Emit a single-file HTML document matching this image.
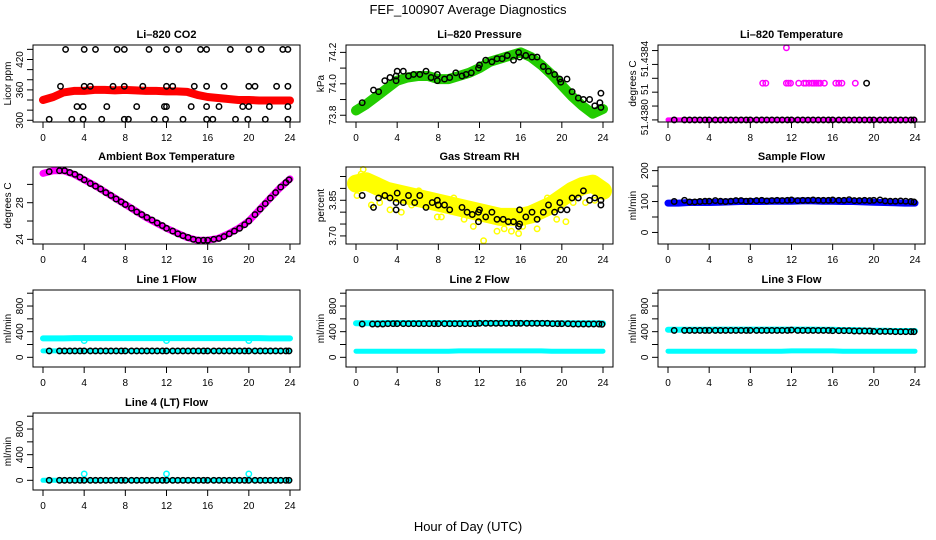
<!DOCTYPE html>
<html><head><meta charset="utf-8">
<style>
html,body{margin:0;padding:0;background:#fff;}
svg{display:block;font-family:"Liberation Sans",Arial,sans-serif;}
</style></head>
<body>
<svg id="chart" width="936" height="540" viewBox="0 0 936 540" xmlns="http://www.w3.org/2000/svg">
<rect width="936" height="540" fill="#fff"/>
<text x="468" y="14" text-anchor="middle" font-size="13">FEF_100907  Average Diagnostics</text>
<text x="468" y="531" text-anchor="middle" font-size="13">Hour of Day (UTC)</text>
</svg>
<script>
// ---------- data ----------
const xTicks = [0,4,8,12,16,20,24];
const hours = [0,1,2,3,4,5,6,7,8,9,10,11,12,13,14,15,16,17,18,19,20,21,22,23,24];
const blackHours = [0.6,1.6,2.1,2.6,3.1,3.6,4.0,4.6,5.1,5.6,6.1,6.6,7.1,7.6,8.0,8.6,9.1,9.6,10.1,10.6,11.1,11.6,12.0,12.6,13.1,13.6,14.1,14.6,15.1,15.6,16.0,16.6,17.1,17.6,18.1,18.6,19.1,19.6,20.0,20.6,21.1,21.6,22.1,22.6,23.1,23.6,23.9];

// CO2
const co2Band = [340,346,355,358,358,360,360,359,360,359,358,358,357,357,356,350,346,344,342,340,340,339,339,339,339];
const co2BlackHours = [2.2,4,5.1,7.2,7.9,10.3,12,13.2,15.3,15.9,18.2,20,21.2,23.3,23.8, 1.7,4,4.6,6.8,7.9,9.7,12,12.6,14.7,15.9,17.6,20,20.6,22.7,23.8, 3.3,3.9,6.2,9.1,11.8,12,14.4,15.9,17.1,19.4,20,22,23.8, 0.6,2.8,3.9,5.7,7.9,8.3,10.8,11.9,13.6,15.9,16.5,18.7,19.9,21.6,23.8];
const co2BlackVals = [440,440,440,440,440,440,440,440,440,440,440,440,440,440,440, 367,367,367,367,367,367,367,367,367,367,367,367,367,367,367, 327,327,327,327,327,327,327,327,327,327,327,327,327, 302,302,302,302,302,302,302,302,302,302,302,302,302,302,302];

// Pressure
const presBand = [73.83,73.87,73.92,73.97,74.02,74.04,74.05,74.05,74.03,74.03,74.05,74.07,74.1,74.14,74.16,74.18,74.2,74.17,74.12,74.06,73.99,73.92,73.86,73.81,73.84];
const presBlackHours = [0.6,1.7,2.2,2.8,3.3,3.9,4,3.9,4.6,5.1,5.6,6.2,6.8,7.3,7.9,7.9,8.6,9.1,9.7,10.3,10.7,11.2,11.9,12,12.6,13.2,13.7,14.2,14.7,15.3,15.8,15.9,16.5,17.1,17.6,18.2,18.7,19.3,19.8,19.9,20.5,21,21.6,22.1,22.7,23.2,23.7,23.8,23.8];
const presBlackVals = [73.88,73.96,73.95,74.02,74.04,74.05,74.08,74.02,74.08,74.05,74.06,74.06,74.08,74.04,74.06,74.02,74.03,74.04,74.07,74.05,74.06,74.07,74.1,74.12,74.15,74.14,74.16,74.16,74.18,74.15,74.2,74.17,74.18,74.17,74.17,74.11,74.08,74.06,74.03,74.01,74.03,73.95,73.91,73.9,73.9,73.86,73.88,73.85,73.94];

// Li-820 temperature (units of 0.0001 above 51.4380)
const tempLow = [0,0,0,0,0,0,0,0,0,0,0,0,0,0,0,0,0,0,0,0,0,0,0,0,0];
const tempMidHours = [9.2,9.5,11.5,11.7,11.9,12.7,13.2,13.4,13.7,14,14.2,14.4,14.6,14.8,15.2,16.3,16.6,16.9,18.2];
const tempMidVals = [2.65,2.65,2.65,2.65,2.65,2.65,2.65,2.65,2.65,2.65,2.65,2.65,2.65,2.65,2.65,2.65,2.65,2.65,2.65];
const tempTopHours = [11.5];
const tempTopVals = [5.2];
const tempBlackExtraHours = [19.3];
const tempBlackExtraVals = [2.65];

// Ambient box temperature
const ambBand = [31.2,31.5,31.5,31.1,30.5,29.9,29.2,28.5,27.8,27.1,26.4,25.8,25.2,24.7,24.2,23.9,23.9,24.1,24.6,25.2,26.0,27.2,28.4,29.6,30.6];
const ambBlack = [31.4,31.5,31.5,31.3,31.1,30.8,30.5,30.1,29.8,29.5,29.1,28.8,28.4,28.1,27.8,27.4,27.0,26.7,26.4,26.1,25.8,25.5,25.2,24.9,24.6,24.4,24.2,24.0,23.9,23.9,23.9,24.0,24.1,24.3,24.6,24.9,25.2,25.6,26.0,26.7,27.3,27.9,28.5,29.1,29.7,30.2,30.5];

// Gas stream RH
const rhBand = [3.92,3.93,3.91,3.89,3.88,3.87,3.86,3.85,3.84,3.83,3.82,3.81,3.80,3.79,3.78,3.78,3.78,3.79,3.81,3.83,3.86,3.89,3.91,3.92,3.89];
const rhYellowHours = [0.1,0.5,0.7,1.5,2.3,3.3,4.4,5.4,6.6,7.9,8.3,9.5,10.5,11.4,11.9,12.4,13.7,14.4,15.1,15.8,16.2,17.6,18.6,19.5,20.4,21.1,22.3,23.2,23.9,0.5,6.1];
const rhYellowVals = [3.87,3.96,3.98,3.83,3.84,3.81,3.80,3.83,3.86,3.78,3.78,3.86,3.77,3.74,3.76,3.68,3.72,3.73,3.72,3.71,3.74,3.73,3.86,3.77,3.76,3.84,3.84,3.85,3.88,3.95,3.89];
const rhBlackHours = [0.6,1.7,2.2,2.8,3.3,3.9,4,3.9,4.6,5.1,5.7,6.2,6.8,7.4,7.9,8,8.6,9.1,10.3,10.8,11.3,11.9,12,11.9,12.6,13.2,13.7,14.3,14.8,15.3,15.8,15.9,15.9,16.5,17.1,17.6,18.2,18.7,19.3,19.8,19.9,20.5,21,21.6,22.1,22.7,23.2,23.8,23.8];
const rhBlackVals = [3.87,3.82,3.86,3.87,3.86,3.84,3.88,3.81,3.84,3.87,3.84,3.87,3.82,3.84,3.85,3.83,3.83,3.81,3.82,3.80,3.79,3.80,3.81,3.76,3.78,3.80,3.77,3.77,3.76,3.76,3.74,3.75,3.81,3.78,3.80,3.77,3.80,3.83,3.80,3.84,3.81,3.81,3.86,3.86,3.89,3.85,3.86,3.85,3.83];

// Sample flow
const sampleBand = [95,95,97,97,97,98,99,100,100,100,101,101,101,102,102,101,101,100,100,99,98,97,96,95,95];
const sampleBlack = [100,104,99,99,100,101,101,103,101,100,101,103,103,101,102,103,104,102,103,104,103,104,105,103,104,104,105,104,104,104,105,104,104,106,103,103,104,103,104,105,102,101,101,102,101,100,99];

// Line flows
const line1High = [295,295,295,300,300,300,300,300,300,300,300,300,300,300,300,300,300,300,300,300,300,300,295,295,295];
const line1Low = [100,100,100,100,100,100,100,100,100,100,100,100,100,100,100,100,100,100,100,100,100,100,100,100,100];
const line1Black = [100,100,100,100,100,100,100,100,100,100,100,100,100,100,100,100,100,100,100,100,100,100,100,100,100,100,100,100,100,100,100,100,100,100,100,100,100,100,100,100,100,100,100,100,100,100,100];
const line2High = [530,530,530,535,535,535,535,535,535,535,535,535,535,535,535,535,535,535,535,530,530,530,530,530,530];
const line2Low = [95,95,95,95,95,95,95,95,95,95,100,100,100,100,100,100,100,100,100,95,95,95,95,95,95];
const line2Black = [520,520,520,520,525,525,525,525,525,525,525,525,525,525,525,525,525,525,525,525,525,525,530,530,530,530,530,530,530,530,530,530,530,530,530,530,525,525,525,525,520,520,520,520,520,520,515];
const line3High = [430,430,430,430,430,432,432,432,432,432,432,432,432,432,432,430,430,425,425,420,415,415,410,410,410];
const line3Low = [95,95,95,95,95,95,95,95,95,95,95,95,100,100,100,100,100,95,95,95,95,95,95,95,95];
const line3Black = [420,420,420,420,420,420,420,420,420,420,420,420,420,420,420,420,420,420,420,420,420,420,425,420,420,420,420,420,420,420,415,415,415,415,410,410,410,410,405,405,405,405,400,400,400,400,400];
const line4Band = [0,0,0,0,0,0,0,0,0,0,0,0,0,0,0,0,0,0,0,0,0,0,0,0,0];
const line4Black = [0,0,0,0,0,0,0,0,0,0,0,0,0,0,0,0,0,0,0,0,0,0,0,0,0,0,0,0,0,0,0,0,0,0,0,0,0,0,0,0,0,0,0,0,0,0,0];
const outlierHours = [4,12,20];
const line1Outliers = [260,260,260];
const line4Outliers = [100,100,100];

// ---------- drawing ----------
const NS = 'http://www.w3.org/2000/svg';
const svg = document.getElementById('chart');
const colLeft = [33,346,658];
const rowTop = [45,167,290,413];
const boxW = 267, boxH = 77;

function mk(tag, parent){ const e = document.createElementNS(NS, tag); parent.appendChild(e); return e; }

function makePanel(col,row,ylim,name){
  const L = colLeft[col], T = rowTop[row];
  const g = mk('g', svg);
  
  
  return {g:g, L:L, T:T,
    x: h => L + 10 + h*(247/24),
    y: v => T + boxH - (v-ylim[0])/(ylim[1]-ylim[0])*boxH};
}

function frame(p,title,ylab,yTicks,yLabels,yLabelVals){
  const g = p.g;
  const box = mk('rect', g);
  box.setAttribute('x', p.L); box.setAttribute('y', p.T);
  box.setAttribute('width', boxW); box.setAttribute('height', boxH);
  box.setAttribute('fill','none'); box.setAttribute('stroke','#000'); box.setAttribute('stroke-width','1');
  
  
  const t = mk('text', g);
  t.setAttribute('x', p.L + boxW/2); t.setAttribute('y', p.T - 7);
  t.setAttribute('text-anchor','middle'); t.setAttribute('font-size','11'); t.setAttribute('font-weight','bold');
  t.textContent = title;
  
  
  const yl = mk('text', g);
  const yc = p.T + boxH/2;
  yl.setAttribute('transform', `translate(${p.L-22},${yc}) rotate(-90)`);
  yl.setAttribute('text-anchor','middle'); yl.setAttribute('font-size','10');
  yl.textContent = ylab;
  
  
  xTicks.forEach(h => {
    const X = p.x(h);
    const tk = mk('line', g);
    tk.setAttribute('x1',X); tk.setAttribute('x2',X); tk.setAttribute('y1',p.T+boxH); tk.setAttribute('y2',p.T+boxH+6);
    tk.setAttribute('stroke','#000');
    
    
    const lb = mk('text', g);
    lb.setAttribute('x',X); lb.setAttribute('y',p.T+boxH+19);
    lb.setAttribute('text-anchor','middle'); lb.setAttribute('font-size','10');
    lb.textContent = h;
    
    
  });
  yTicks.forEach(v => {
    const Y = p.y(v);
    const tk = mk('line', g);
    tk.setAttribute('x1',p.L-6); tk.setAttribute('x2',p.L); tk.setAttribute('y1',Y); tk.setAttribute('y2',Y);
    tk.setAttribute('stroke','#000');
    
    
  });
  yLabelVals.forEach((v,i) => {
    const Y = p.y(v);
    const lb = mk('text', g);
    lb.setAttribute('transform', `translate(${p.L-10},${Y}) rotate(-90)`);
    lb.setAttribute('text-anchor','middle'); lb.setAttribute('font-size','10');
    lb.textContent = yLabels[i];
    
    
  });
}

function band(p, xs, vals, color, width){
  const pl = mk('polyline', p.g);
  pl.setAttribute('points', xs.map((h,i)=>p.x(h).toFixed(1)+','+p.y(vals[i]).toFixed(1)).join(' '));
  pl.setAttribute('fill','none'); pl.setAttribute('stroke',color); pl.setAttribute('stroke-width',width);
  pl.setAttribute('stroke-linejoin','round'); pl.setAttribute('stroke-linecap','round');
  
  
}

function circles(p, xs, vals, color){
  xs.forEach((h,i) => {
    const c = mk('circle', p.g);
    c.setAttribute('cx', p.x(h).toFixed(1)); c.setAttribute('cy', p.y(vals[i]).toFixed(1));
    c.setAttribute('r','2.7'); c.setAttribute('fill','none');
    c.setAttribute('stroke',color); c.setAttribute('stroke-width','1.5');
    
    
  });
}

let p = makePanel(0,0,[296.6,448.6],'panel-co2');
band(p, hours, co2Band, '#ff0000', 8);
circles(p, co2BlackHours, co2BlackVals, '#000');
frame(p,'Li\u2013820 CO2','Licor ppm',[300,320,340,360,380,400,420,440],['300','360','420'],[300,360,420]);

p = makePanel(1,0,[73.757,74.247],'panel-pressure');
band(p, hours, presBand, '#22cc00', 10);
circles(p, presBlackHours, presBlackVals, '#000');
frame(p,'Li\u2013820 Pressure','kPa',[73.8,73.9,74.0,74.1,74.2],['73.8','74.0','74.2'],[73.8,74.0,74.2]);

p = makePanel(2,0,[-0.15,5.4],'panel-li820-temperature');
band(p, hours, tempLow, '#ff00ff', 5);
circles(p, tempMidHours, tempMidVals, '#ff00ff');
circles(p, tempTopHours, tempTopVals, '#ff00ff');
circles(p, blackHours, blackHours.map(()=>tempLow[0]), '#000');
circles(p, tempBlackExtraHours, tempBlackExtraVals, '#000');
frame(p,'Li\u2013820 Temperature','degrees C',[0,1,2,3,4,5],['51.4380','51','51.4384'],[0.2,2.2,4.4]);

p = makePanel(0,1,[23.49,31.9],'panel-ambient-temperature');
band(p, hours, ambBand, '#ff00ff', 7);
circles(p, blackHours, ambBlack, '#000');
frame(p,'Ambient Box Temperature','degrees C',[24,26,28,30],['24','28'],[24,28]);

p = makePanel(1,1,[3.666,3.99],'panel-gas-stream-rh');
band(p, hours, rhBand, '#ffff00', 18);
circles(p, rhYellowHours, rhYellowVals, '#ffff00');
circles(p, rhBlackHours, rhBlackVals, '#000');
frame(p,'Gas Stream RH','percent',[3.70,3.75,3.80,3.85,3.90,3.95],['3.70','3.85'],[3.70,3.85]);

p = makePanel(2,1,[-37.4,211.8],'panel-sample-flow');
band(p, hours, sampleBand, '#0000ff', 7);
circles(p, blackHours, sampleBlack, '#000');
frame(p,'Sample Flow','ml/min',[0,50,100,150,200],['0','100','200'],[0,100,200]);

const flowLim = [-151,1050];
const flowTicks = [0,200,400,600,800,1000];
p = makePanel(0,2,flowLim,'panel-line1-flow');
band(p, hours, line1High, '#00ffff', 6);
band(p, hours, line1Low, '#00ffff', 5);
circles(p, outlierHours, line1Outliers, '#00ffff');
circles(p, blackHours, line1Black, '#000');
frame(p,'Line 1 Flow','ml/min',flowTicks,['0','400','800'],[0,400,800]);

p = makePanel(1,2,flowLim,'panel-line2-flow');
band(p, hours, line2High, '#00ffff', 6);
band(p, hours, line2Low, '#00ffff', 5);
circles(p, blackHours, line2Black, '#000');
frame(p,'Line 2 Flow','ml/min',flowTicks,['0','400','800'],[0,400,800]);

p = makePanel(2,2,flowLim,'panel-line3-flow');
band(p, hours, line3High, '#00ffff', 6);
band(p, hours, line3Low, '#00ffff', 5);
circles(p, blackHours, line3Black, '#000');
frame(p,'Line 3 Flow','ml/min',flowTicks,['0','400','800'],[0,400,800]);

p = makePanel(0,3,flowLim,'panel-line4-flow');
band(p, hours, line4Band, '#00ffff', 5);
circles(p, outlierHours, line4Outliers, '#00ffff');
circles(p, blackHours, line4Black, '#000');
frame(p,'Line 4 (LT) Flow','ml/min',flowTicks,['0','400','800'],[0,400,800]);
</script>
</body></html>
